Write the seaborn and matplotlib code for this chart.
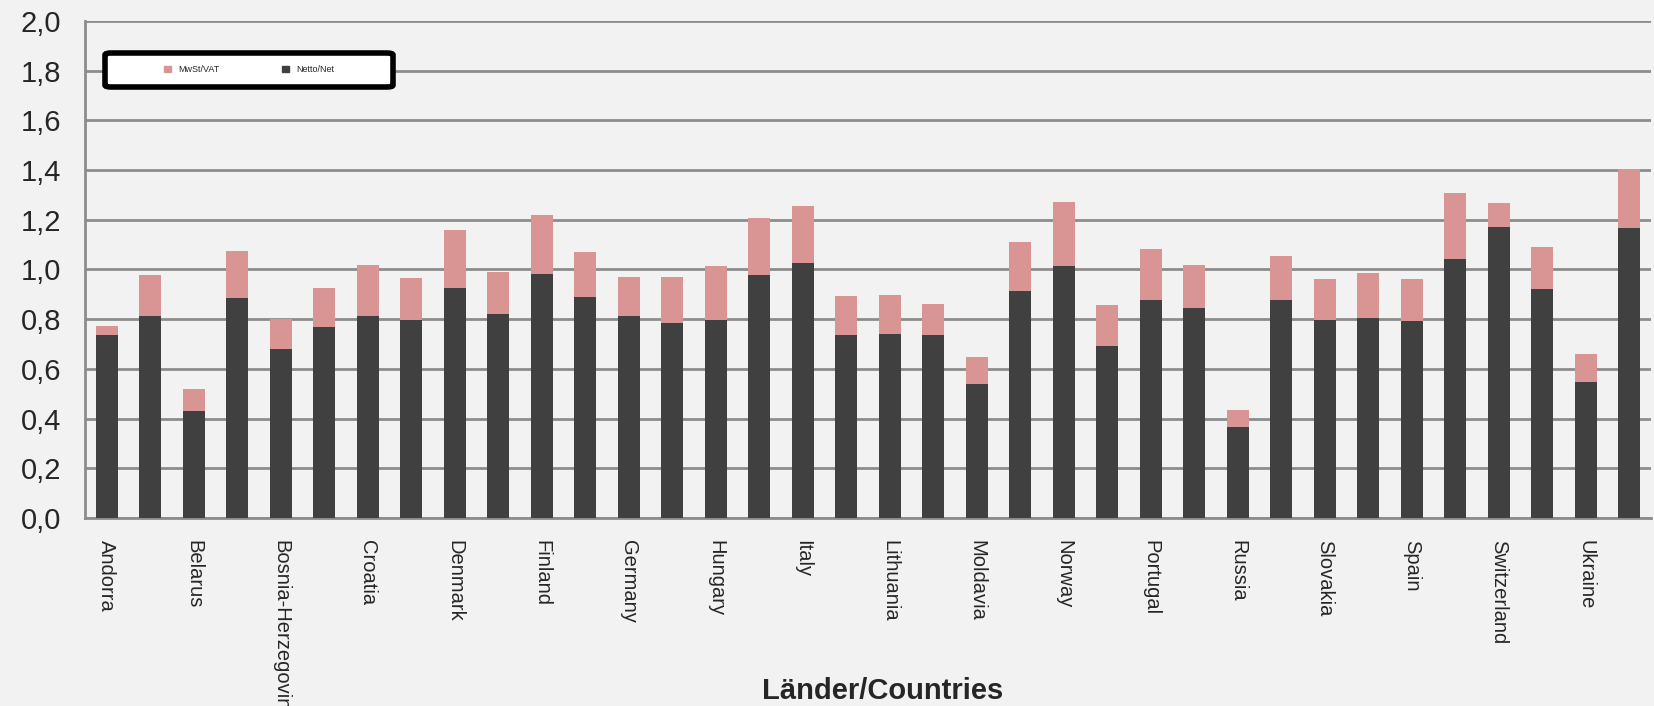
import matplotlib
matplotlib.use("Agg")
import matplotlib.pyplot as plt
from matplotlib.patches import Patch, FancyBboxPatch
from matplotlib.ticker import FuncFormatter
import seaborn as sns
import numpy as np
import pandas as pd

# values (36 bars, every second one labelled)
tick_labels = ['Andorra', 'Belarus', 'Bosnia-Herzegovina', 'Croatia', 'Denmark',
               'Finland', 'Germany', 'Hungary', 'Italy', 'Lithuania', 'Moldavia',
               'Norway', 'Portugal', 'Russia', 'Slovakia', 'Spain', 'Switzerland',
               'Ukraine']
net = [0.736, 0.812, 0.431, 0.885, 0.680, 0.768, 0.812, 0.796, 0.925, 0.820,
       0.982, 0.889, 0.812, 0.784, 0.796, 0.977, 1.025, 0.736, 0.740, 0.736,
       0.540, 0.913, 1.013, 0.692, 0.877, 0.845, 0.367, 0.877, 0.796, 0.804,
       0.792, 1.042, 1.170, 0.921, 0.548, 1.166]
total = [0.773, 0.977, 0.520, 1.074, 0.800, 0.925, 1.018, 0.965, 1.158, 0.990,
         1.218, 1.070, 0.969, 0.969, 1.013, 1.206, 1.254, 0.893, 0.897, 0.861,
         0.648, 1.110, 1.271, 0.857, 1.082, 1.018, 0.435, 1.054, 0.961, 0.985,
         0.961, 1.307, 1.267, 1.090, 0.660, 1.403]
yticks = [0.0, 0.2, 0.4, 0.6, 0.8, 1.0, 1.2, 1.4, 1.6, 1.8, 2.0]

df = pd.DataFrame({'bar': np.arange(len(net)), 'net': net, 'total': total})

bg = '#f2f2f2'
grid_col = '#8c8c8c'
vat_col = '#d99594'
net_col = '#404040'

sns.set_style('white', {'axes.facecolor': bg, 'figure.facecolor': bg})
plt.rcParams['font.family'] = ['Liberation Sans', 'DejaVu Sans']

W, H = 1654, 706
fig = plt.figure(figsize=(W / 100, H / 100), dpi=100)
left, right, top, bottom = 85, 1651, 21, 518
ax = fig.add_axes([left / W, (H - bottom) / H, (right - left) / W, (bottom - top) / H])

sns.barplot(data=df, x='bar', y='total', color=vat_col, width=0.5,
            saturation=1, ax=ax, zorder=3)
sns.barplot(data=df, x='bar', y='net', color=net_col, width=0.5,
            saturation=1, ax=ax, zorder=4)
for p in ax.patches:
    p.set_linewidth(0)

ax.set_xlim(-0.5, len(net) - 0.5)
ax.set_ylim(0, 2.0)
ax.set_yticks(yticks)
ax.yaxis.set_major_formatter(FuncFormatter(lambda v, _: f'{v:.1f}'.replace('.', ',')))
ax.grid(axis='y', color=grid_col, linewidth=2, zorder=1)
ax.set_axisbelow(True)

ax.set_xticks(np.arange(0, len(net), 2))
ax.set_xticklabels(tick_labels, rotation=-90, ha='center', va='top', fontsize=14.5)
for lbl in ax.get_xticklabels():
    lbl.set_x(lbl.get_position()[0] - 0.1)
ax.set_xticks(np.arange(-0.5, len(net), 1), minor=True)
ax.tick_params(axis='x', which='major', length=0, pad=16)
ax.tick_params(axis='x', which='minor', length=6, width=1.5, color=grid_col, direction='out')
ax.tick_params(axis='y', length=8, width=1.5, color=grid_col, pad=9, labelsize=21)
ax.set_xlabel('')
ax.set_ylabel('')

for s in ['top', 'right']:
    ax.spines[s].set_visible(False)
for s in ['left', 'bottom']:
    ax.spines[s].set_color(grid_col)
    ax.spines[s].set_linewidth(2)

# legend box
x0 = (105 - left) / (right - left)
x1 = (393 - left) / (right - left)
y0 = (bottom - 87) / (bottom - top)
y1 = (bottom - 53) / (bottom - top)
box = FancyBboxPatch((x0, y0), x1 - x0, y1 - y0, boxstyle='round,pad=0,rounding_size=0.004',
                     transform=ax.transAxes, facecolor='white', edgecolor='black',
                     linewidth=4, zorder=6)
ax.add_patch(box)
handles = [Patch(color=vat_col, label='MwSt/VAT'), Patch(color=net_col, label='Netto/Net')]
leg = ax.legend(handles=handles, loc='center', bbox_to_anchor=((x0 + x1) / 2, (y0 + y1) / 2),
                ncol=2, frameon=False, fontsize=6.5, handlelength=0.7, handleheight=0.7,
                handletextpad=0.8, columnspacing=7)
leg.set_zorder(7)

fig.text(883 / W, (H - 691) / H, 'Länder/Countries', ha='center', va='center',
         fontsize=21, fontweight='bold')

fig.savefig('out.png', dpi=100, facecolor=bg)
